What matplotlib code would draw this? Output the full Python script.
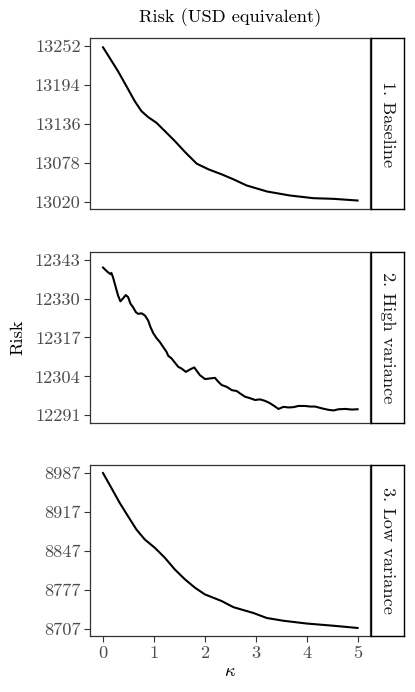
import matplotlib
matplotlib.use("Agg")
import matplotlib.pyplot as plt

plt.rcParams['font.family'] = 'cmr10'
plt.rcParams['mathtext.fontset'] = 'cm'
plt.rcParams['axes.formatter.use_mathtext'] = True

# values
base_k = [0.0, 0.132, 0.295, 0.46, 0.624, 0.755, 0.886, 1.05, 1.215, 1.41, 1.61, 1.84,
          2.07, 2.33, 2.56, 2.82, 3.22, 3.67, 4.13, 4.53, 5.0]
base_risk = [13250.1, 13234.2, 13214.4, 13192.1, 13169.7, 13154.9, 13146, 13137.5,
             13125.1, 13110.3, 13093.9, 13076.5, 13068.1, 13060.6, 13053.2, 13044,
             13035, 13029, 13025, 13024, 13021.5]

high_k = [0.0, 0.066, 0.099, 0.145, 0.164, 0.197, 0.25, 0.296, 0.342, 0.394, 0.447,
          0.493, 0.539, 0.591, 0.644, 0.69, 0.755, 0.821, 0.886, 0.932, 0.985, 1.051,
          1.116, 1.182, 1.247, 1.28, 1.346, 1.411, 1.477, 1.543, 1.628, 1.707, 1.792,
          1.838, 1.904, 2.002, 2.1, 2.199, 2.264, 2.33, 2.429, 2.494, 2.527, 2.625,
          2.691, 2.789, 2.888, 2.986, 3.085, 3.183, 3.281, 3.38, 3.446, 3.544, 3.642,
          3.741, 3.839, 3.97, 4.069, 4.167, 4.299, 4.43, 4.528, 4.627, 4.758, 4.889, 5.0]
high_risk = [12340.4, 12339.3, 12338.8, 12338.2, 12338.6, 12337.1, 12333.8, 12331.0,
             12329.1, 12330.1, 12331.2, 12330.5, 12328.3, 12327.1, 12325.5, 12324.9,
             12325.1, 12324.4, 12322.7, 12320.5, 12318.5, 12316.8, 12315.5, 12313.8,
             12312.2, 12310.9, 12310.0, 12308.6, 12307.2, 12306.6, 12305.5, 12306.3,
             12307.0, 12305.9, 12304.4, 12303.1, 12303.3, 12303.5, 12302.2, 12301.1,
             12300.5, 12299.8, 12299.4, 12299.1, 12298.3, 12297.2, 12296.7, 12296.1,
             12296.3, 12295.8, 12295.0, 12293.9, 12293.1, 12293.8, 12293.6, 12293.7,
             12294.1, 12294.1, 12293.9, 12293.9, 12293.3, 12292.8, 12292.6, 12293.0,
             12293.1, 12292.9, 12293.0]

low_k = [0.0, 0.165, 0.329, 0.492, 0.657, 0.821, 1.018, 1.215, 1.41, 1.61, 1.805, 2.0,
         2.33, 2.56, 2.953, 3.215, 3.543, 4.0, 4.528, 5.0]
low_risk = [8987, 8960.1, 8933.1, 8909.1, 8885.2, 8867.3, 8852.4, 8834.4, 8813.4, 8795.5,
            8780.6, 8768.5, 8756.5, 8745.5, 8735, 8726, 8721, 8716, 8712, 8708]

panels = [
    ("1. Baseline", base_k, base_risk, [13020, 13078, 13136, 13194, 13252]),
    ("2. High variance", high_k, high_risk, [12291, 12304, 12317, 12330, 12343]),
    ("3. Low variance", low_k, low_risk, [8707, 8777, 8847, 8917, 8987]),
]
x_ticks = [0, 1, 2, 3, 4, 5]

W, H = 415, 692
fig = plt.figure(figsize=(W / 100, H / 100), dpi=100)

tops = [38.3, 252.0, 465.3]
ph = 171.0
left, right = 90.3, 370.3
strip_l, strip_r = 371.0, 404.3

for i, (name, k, r, yt) in enumerate(panels):
    top = tops[i]
    ax = fig.add_axes([left / W, 1 - (top + ph) / H, (right - left) / W, ph / H])
    ax.plot(k, r, color='black', lw=1.5, solid_joinstyle='round')
    ax.set_xlim(-0.25, 5.25)
    span = yt[-1] - yt[0]
    ax.set_ylim(yt[0] - 0.05 * span, yt[-1] + 0.05 * span)
    ax.set_yticks(yt)
    ax.set_yticklabels([str(v) for v in yt])
    ax.set_xticks(x_ticks)
    ax.tick_params(axis='both', colors='#333333', labelcolor='#4D4D4D', labelsize=13.2,
                   length=4, width=0.8, pad=3)
    for s in ax.spines.values():
        s.set_color('#333333')
        s.set_linewidth(0.9)
    if i < 2:
        ax.tick_params(axis='x', bottom=False, labelbottom=False)
    else:
        ax.set_xticklabels([str(v) for v in x_ticks])
        ax.set_xlabel(r'$\kappa$', fontsize=13.2, labelpad=2)

    sax = fig.add_axes([strip_l / W, 1 - (top + ph) / H, (strip_r - strip_l) / W, ph / H])
    sax.set_xticks([])
    sax.set_yticks([])
    for s in sax.spines.values():
        s.set_color('black')
        s.set_linewidth(1.0)
    sax.text(0.5, 0.5, name, rotation=-90, ha='center', va='center',
             fontsize=13.2, color='#1A1A1A', transform=sax.transAxes)

fig.text((left + right) / 2 / W, 1 - 18 / H, 'Risk (USD equivalent)', ha='center',
         va='center', fontsize=13.2)
fig.text(17.5 / W, 1 - 337 / H, 'Risk', rotation=90, ha='center', va='center',
         fontsize=13.2)

fig.savefig('out.png', dpi=100)
